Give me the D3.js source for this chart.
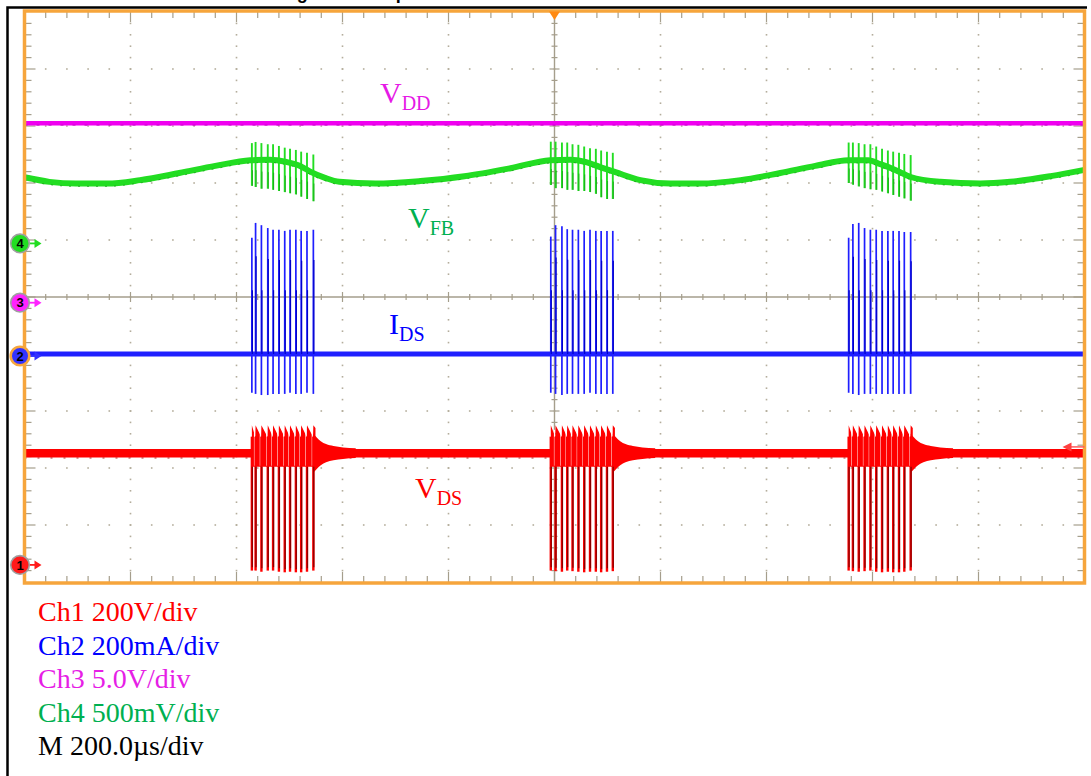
<!DOCTYPE html>
<html><head><meta charset="utf-8">
<script src="https://cdn.jsdelivr.net/npm/d3@7"></script>
<style>html,body{margin:0;padding:0;background:#fff;overflow:hidden}svg{display:block}</style>
</head><body>
<svg id="c" width="1091" height="776"></svg>
<script>
// ---------------- DATA ----------------
const timeDomain = [0, 2000];          // µs : 10 div x 200 µs
const divDomain  = [-5, 5];            // vertical divisions
const triggerTime = 1000;
const triggerLevel = -2.63;

const vddLevel = 3.05;                 // Ch3 trace (div)
const idsLevel = -1.0;                 // Ch2 baseline (div)
const vdsLevel = -2.74;                // Ch1 baseline (div)

// Ch4 (VFB) slow baseline  [time µs, div]
const vfbBaseline = [
  [0,2.10],[47,2.02],[97,1.99],[156,1.99],[218,2.05],[292,2.175],[360,2.30],[426,2.40],
  [463,2.41],[494,2.37],[520,2.30],[541,2.19],[567,2.09],[594,2.02],[662,1.99],[747,2.035],
  [830,2.12],[917,2.26],[992,2.40],[1030,2.41],[1058,2.37],[1086,2.28],[1115,2.19],[1162,2.05],
  [1219,1.99],[1275,1.99],[1351,2.05],[1426,2.175],[1492,2.30],[1555,2.40],[1592,2.40],
  [1615,2.33],[1643,2.23],[1672,2.105],[1728,2.02],[1804,1.99],[1860,2.02],[1936,2.12],[2000,2.23]
];

// switching pulses of the three bursts (µs)
const burstPulses = [
  [429, 436, 447, 459, 469, 480, 491, 501, 512, 522, 533, 545],
  [993, 1002, 1014, 1024, 1034, 1045, 1056, 1067, 1078, 1088, 1099, 1110],
  [1555, 1563, 1574, 1585, 1596, 1607, 1618, 1629, 1639, 1650, 1660, 1672]
];
// IDS pulse extremes (div)
const idsPeak = [
  [1.04, 1.30, 1.26, 1.21, 1.18, 1.18, 1.16, 1.18, 1.18, 1.16, 1.16, 1.18],
  [1.06, 1.26, 1.24, 1.19, 1.18, 1.18, 1.16, 1.18, 1.16, 1.16, 1.16, 1.16],
  [1.04, 1.28, 1.30, 1.21, 1.18, 1.18, 1.16, 1.16, 1.16, 1.16, 1.14, 1.14]
];
const idsTrough = [
  [-1.68, -1.70, -1.72, -1.72, -1.70, -1.70, -1.70, -1.68, -1.70, -1.70, -1.68, -1.70],
  [-1.68, -1.70, -1.72, -1.70, -1.70, -1.70, -1.70, -1.68, -1.70, -1.70, -1.70, -1.70],
  [-1.68, -1.70, -1.72, -1.70, -1.70, -1.70, -1.70, -1.70, -1.70, -1.70, -1.70, -1.70]
];
// VFB spikes (div)
const vfbSpikeTop = [
  [2.70, 2.72, 2.70, 2.68, 2.68, 2.65, 2.62, 2.60, 2.58, 2.55, 2.53, 2.50],
  [2.725, 2.725, 2.71, 2.71, 2.68, 2.67, 2.64, 2.61, 2.60, 2.57, 2.55, 2.53],
  [2.71, 2.71, 2.70, 2.68, 2.68, 2.64, 2.60, 2.57, 2.55, 2.53, 2.51, 2.49]
];
const vfbSpikeBottom = [
  [1.95, 1.93, 1.90, 1.90, 1.88, 1.86, 1.84, 1.82, 1.80, 1.76, 1.72, 1.68],
  [1.965, 1.91, 1.91, 1.88, 1.88, 1.86, 1.86, 1.84, 1.81, 1.75, 1.72, 1.72],
  [2.00, 1.97, 1.94, 1.91, 1.89, 1.88, 1.85, 1.82, 1.79, 1.76, 1.73, 1.69]
];
// VDS burst
const vdsBandPeak = -2.25, vdsBandDecay = -2.45, vdsBandBottom = -2.98;
const vdsSpikeLow = [
  [-4.80, -4.80, -4.82, -4.80, -4.80, -4.82, -4.83, -4.82, -4.83, -4.83, -4.82, -4.80],
  [-4.80, -4.81, -4.82, -4.80, -4.81, -4.82, -4.83, -4.82, -4.82, -4.83, -4.82, -4.81],
  [-4.80, -4.81, -4.82, -4.81, -4.80, -4.82, -4.83, -4.82, -4.83, -4.83, -4.82, -4.80]
];
// ringing envelope after the last pulse  [µs after, half amplitude div]
const vdsRing = [[0,0.34],[6,0.28],[14,0.21],[24,0.16],[38,0.125],[56,0.10],[80,0.085]];

// channel markers
const markerNames  = ['1', '2', '3', '4'];
const markerLevels = [-4.70, -1.035, -0.10, 0.94];

// annotations & legend
const traceLabels = [['V','DD'], ['V','FB'], ['I','DS'], ['V','DS']];
const legendLines = ['Ch1 200V/div', 'Ch2 200mA/div', 'Ch3 5.0V/div', 'Ch4 500mV/div', 'M 200.0\u00b5s/div'];
const titleText = 'Timing of burst operation';

// ---------------- STYLE / LAYOUT ----------------
const C = {grid:'#a59e8c', orange:'#f6a53c', vdd:'#f000f0', vfb:'#22dd22', vfbDark:'#139a13',
  ids:'#1f1fff', vds:'#ff0000', vdsDark:'#8a0000'};
const markerFill = ['#ff1a1a', '#3333ff', '#ff22ff', '#22dd22'];
const labelColors = ['#e619e6', '#00b050', '#0000ff', '#ff0000'];
const labelPos = [[380,103],[408,228],[389,334],[415,498]];
const legendColors = ['#ff0000', '#0000ff', '#e61ee6', '#00b050', '#000000'];

const svg = d3.select('#c');
const X0 = 24.5, X1 = 1084.5, Y0 = 582, Y1 = 12;
const x = d3.scaleLinear().domain(timeDomain).range([X0, X1]);
const y = d3.scaleLinear().domain(divDomain).range([Y0, Y1]);

// title (cropped at top like the reference)
svg.append('text').attr('x', 249).attr('y', -1)
  .attr('font-family', 'Liberation Sans, Arial, sans-serif').attr('font-weight', 'bold')
  .attr('font-size', 18).attr('fill', '#000').text(titleText);

// outer black frame
svg.append('path').attr('d', 'M1087,7.5H7.5V776').attr('fill', 'none')
  .attr('stroke', '#000').attr('stroke-width', 2.5);

// ---------------- GRATICULE ----------------
const g = svg.append('g');
const minorT = d3.range(0, 51).map(k => k * 40);
const minorV = d3.range(-25, 26).map(k => k / 5);
const majorT = d3.range(1, 10).map(k => k * 200);
const majorV = d3.range(-4, 5);
const isMajT = t => t % 200 === 0;
const isMajV = v => Math.abs(v - Math.round(v)) < 1e-6;

const dots = [];
majorT.filter(t => t !== 1000).forEach(t => minorV.slice(1, -1).forEach(v => dots.push([t, v])));
majorV.filter(v => v !== 0).forEach(v => minorT.slice(1, -1).forEach(t => dots.push([t, v])));
g.selectAll('rect.dot').data(dots).join('rect').attr('class', 'dot')
  .attr('x', d => x(d[0]) - 0.8).attr('y', d => y(d[1]) - 0.8)
  .attr('width', 1.6).attr('height', 1.6).attr('fill', '#b4ad9c');

g.append('line').attr('x1', X0).attr('x2', X1).attr('y1', y(0)).attr('y2', y(0))
  .attr('stroke', C.grid).attr('stroke-width', 1.4);
g.append('line').attr('x1', x(1000)).attr('x2', x(1000)).attr('y1', Y1).attr('y2', Y0)
  .attr('stroke', C.grid).attr('stroke-width', 1.4);
g.selectAll('line.ct').data(minorT.slice(1, -1)).join('line').attr('class', 'ct')
  .attr('x1', d => x(d)).attr('x2', d => x(d))
  .attr('y1', d => y(0) - (isMajT(d) ? 5 : 3)).attr('y2', d => y(0) + (isMajT(d) ? 5 : 3))
  .attr('stroke', C.grid).attr('stroke-width', 1.2);
g.selectAll('line.cv').data(minorV.slice(1, -1)).join('line').attr('class', 'cv')
  .attr('y1', d => y(d)).attr('y2', d => y(d))
  .attr('x1', d => x(1000) - (isMajV(d) ? 5 : 3)).attr('x2', d => x(1000) + (isMajV(d) ? 5 : 3))
  .attr('stroke', C.grid).attr('stroke-width', 1.2);

const tt = minorT.slice(1, -1), vv = minorV.slice(1, -1);
[[Y1, 1], [Y0, -1]].forEach(([yy, s]) => {
  g.selectAll(null).data(tt).join('line')
    .attr('x1', d => x(d)).attr('x2', d => x(d))
    .attr('y1', yy).attr('y2', d => yy + s * (isMajT(d) ? 10 : 6))
    .attr('stroke', C.grid).attr('stroke-width', 1.2);
});
[[X0, 1], [X1, -1]].forEach(([xx, s]) => {
  g.selectAll(null).data(vv).join('line')
    .attr('y1', d => y(d)).attr('y2', d => y(d))
    .attr('x1', xx).attr('x2', d => xx + s * (isMajV(d) ? 11 : 7))
    .attr('stroke', C.grid).attr('stroke-width', 1.2);
});

// ---------------- TRACES ----------------
const tr = svg.append('g');
const line = d3.line().x(d => x(d[0])).y(d => y(d[1]));
const curve = d3.line().curve(d3.curveMonotoneX).x(d => x(d[0])).y(d => y(d[1]));

// VDD
tr.append('path').attr('d', line([[timeDomain[0], vddLevel], [timeDomain[1], vddLevel]]))
  .attr('stroke', C.vdd).attr('stroke-width', 4.5).attr('fill', 'none');
tr.append('path').attr('d', line([[timeDomain[0], vddLevel - 0.035], [timeDomain[1], vddLevel - 0.035]]))
  .attr('stroke', '#b800b8').attr('stroke-width', 0.8).attr('stroke-dasharray', '3,9').attr('fill', 'none');

// VFB baseline
tr.append('path').attr('d', curve(vfbBaseline))
  .attr('stroke', C.vfb).attr('stroke-width', 6).attr('fill', 'none');
tr.append('path').attr('d', d3.line().curve(d3.curveMonotoneX).x(d => x(d[0])).y(d => y(d[1]) + 2.8)(vfbBaseline))
  .attr('stroke', C.vfbDark).attr('stroke-width', 0.7).attr('stroke-dasharray', '2,7').attr('fill', 'none');
burstPulses.forEach((ps, b) => {
  tr.selectAll(null).data(ps).join('line')
    .attr('x1', d => x(d)).attr('x2', d => x(d))
    .attr('y1', (d, i) => y(vfbSpikeTop[b][i])).attr('y2', (d, i) => y(vfbSpikeBottom[b][i]))
    .attr('stroke', C.vfb).attr('stroke-width', 1.9);
  tr.selectAll(null).data(ps).join('line')
    .attr('x1', d => x(d) + 0.6).attr('x2', d => x(d) + 0.6)
    .attr('y1', (d, i) => y((vfbSpikeTop[b][i] + vfbSpikeBottom[b][i]) / 2 - 0.1)).attr('y2', (d, i) => y(vfbSpikeBottom[b][i]))
    .attr('stroke', C.vfbDark).attr('stroke-width', 0.7);
});

// IDS
tr.append('path').attr('d', line([[timeDomain[0], idsLevel], [timeDomain[1], idsLevel]]))
  .attr('stroke', C.ids).attr('stroke-width', 5).attr('fill', 'none');
burstPulses.forEach((ps, b) => {
  tr.selectAll(null).data(ps).join('line')
    .attr('x1', d => x(d)).attr('x2', d => x(d))
    .attr('y1', (d, i) => y(idsPeak[b][i])).attr('y2', (d, i) => y(idsTrough[b][i]))
    .attr('stroke', C.ids).attr('stroke-width', 1.7);
  tr.selectAll(null).data(ps).join('line')
    .attr('x1', d => x(d) + 0.5).attr('x2', d => x(d) + 0.5)
    .attr('y1', (d, i) => y(i % 2 ? idsPeak[b][i] * 0.55 : 0.12)).attr('y2', y(idsLevel))
    .attr('stroke', '#0000c8').attr('stroke-width', 1.2);
});

// VDS
tr.append('path').attr('d', line([[timeDomain[0], vdsLevel], [timeDomain[1], vdsLevel]]))
  .attr('stroke', C.vds).attr('stroke-width', 8.5).attr('fill', 'none');
tr.append('path').attr('d', line([[timeDomain[0], vdsLevel - 0.085], [timeDomain[1], vdsLevel - 0.085]]))
  .attr('stroke', '#a00000').attr('stroke-width', 0.8).attr('stroke-dasharray', '2,11').attr('fill', 'none');

burstPulses.forEach((ps, b) => {
  const last = ps[ps.length - 1];
  const ring = vdsRing.map(d => [last + d[0], d[1]]);
  tr.append('path').attr('d', d3.area().curve(d3.curveMonotoneX)
      .x(d => x(d[0])).y0(d => y(vdsLevel - d[1])).y1(d => y(vdsLevel + d[1]))(ring))
    .attr('fill', C.vds);
  const top = [];
  ps.forEach((p, i) => {
    const nx = i < ps.length - 1 ? ps[i + 1] - 0.6 : p + 4;
    top.push([p, vdsBandPeak]); top.push([nx, i < ps.length - 1 ? vdsBandDecay : vdsBandPeak - 0.05]);
  });
  const poly = top.concat([[last + 4, vdsBandBottom], [ps[0], vdsBandBottom]]);
  tr.append('path').attr('d', line(poly) + 'Z').attr('fill', C.vds);
  tr.selectAll(null).data(ps.slice(1)).join('line')
    .attr('x1', d => x(d) - 1.1).attr('x2', d => x(d) - 1.1)
    .attr('y1', y(vdsBandPeak - 0.08)).attr('y2', y(vdsBandBottom + 0.02))
    .attr('stroke', '#fff').attr('stroke-width', 1.1);
  tr.selectAll(null).data(ps).join('line')
    .attr('x1', d => x(d)).attr('x2', d => x(d))
    .attr('y1', y(vdsBandDecay)).attr('y2', (d, i) => y(vdsSpikeLow[b][i]))
    .attr('stroke', C.vds).attr('stroke-width', 2.4);
  tr.selectAll(null).data(ps).join('line')
    .attr('x1', d => x(d) + 0.4).attr('x2', d => x(d) + 0.4)
    .attr('y1', y(vdsBandBottom)).attr('y2', (d, i) => y(vdsSpikeLow[b][i] + 0.06))
    .attr('stroke', C.vdsDark).attr('stroke-width', 1.3);
});

// ---------------- BORDER & MARKERS ----------------
svg.append('rect').attr('x', X0).attr('y', Y1 - 1).attr('width', X1 - X0).attr('height', Y0 - Y1 + 2)
  .attr('fill', 'none').attr('stroke', C.orange).attr('stroke-width', 3.5);

const tx = x(triggerTime);
svg.append('path').attr('d', `M${tx - 5.5},${Y1 - 0.5}L${tx + 5.5},${Y1 - 0.5}L${tx},${Y1 + 8}Z`).attr('fill', '#ff8a12');
const ty = y(triggerLevel);
svg.append('line').attr('x1', X1 - 14).attr('x2', X1).attr('y1', ty).attr('y2', ty)
  .attr('stroke', '#ff5a5a').attr('stroke-width', 1.5);
svg.append('path').attr('d', `M${X1 - 22},${ty}L${X1 - 13},${ty - 4.5}L${X1 - 13},${ty + 4.5}Z`).attr('fill', '#ff4040');

const mk = svg.append('g');
markerNames.forEach((n, i) => {
  const cy = y(markerLevels[i]);
  const col = markerFill[i];
  mk.append('line').attr('x1', 27).attr('x2', 36).attr('y1', cy).attr('y2', cy)
    .attr('stroke', col).attr('stroke-width', 1.8);
  mk.append('path').attr('d', `M34.5,${cy - 4.5}L41.5,${cy}L34.5,${cy + 4.5}Z`).attr('fill', col);
  mk.append('circle').attr('cx', 20).attr('cy', cy).attr('r', 9.3).attr('fill', col)
    .attr('stroke', n === '2' ? C.orange : '#a0a0a0').attr('stroke-width', n === '2' ? 2.6 : 1.6);
  mk.append('text').attr('x', 20).attr('y', cy + 4.6).attr('text-anchor', 'middle')
    .attr('font-family', 'Liberation Sans, Arial, sans-serif').attr('font-weight', 'bold')
    .attr('font-size', 13).attr('fill', '#000').text(n);
});

// ---------------- LABELS ----------------
traceLabels.forEach((l, i) => {
  const t = svg.append('text').attr('x', labelPos[i][0]).attr('y', labelPos[i][1])
    .attr('font-family', 'Liberation Serif, Times New Roman, serif').attr('font-size', 30)
    .attr('fill', labelColors[i]);
  t.append('tspan').text(l[0]);
  t.append('tspan').attr('font-size', 20).attr('dy', 7).text(l[1]);
});

svg.selectAll('text.leg').data(legendLines).join('text').attr('class', 'leg')
  .attr('x', 38).attr('y', (d, i) => 621 + i * 33.5)
  .attr('font-family', 'Liberation Serif, Times New Roman, serif').attr('font-size', 28)
  .attr('fill', (d, i) => legendColors[i]).text(d => d);
</script>
</body></html>
